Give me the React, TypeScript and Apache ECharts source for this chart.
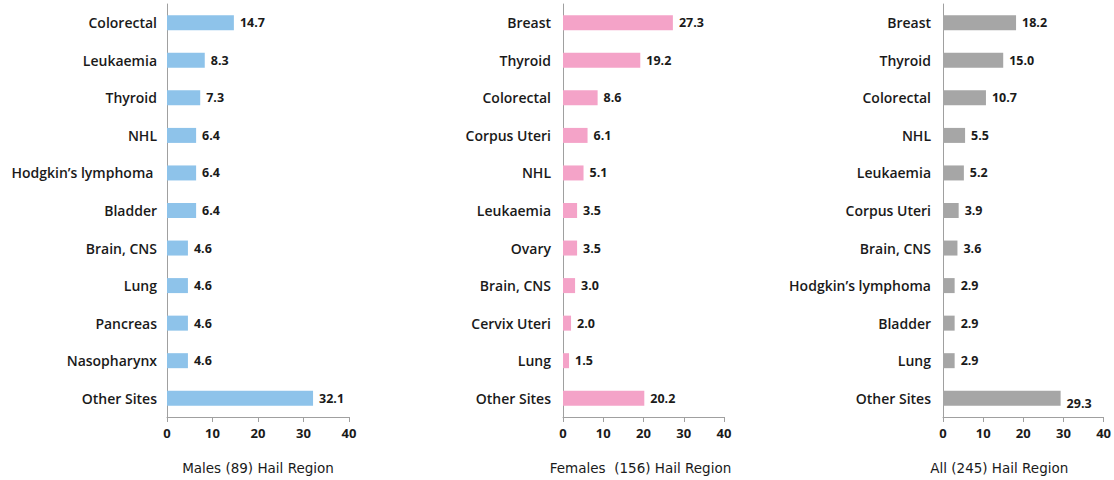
import React, { useEffect, useRef } from "react";
import * as echarts from "echarts";

const maleSites = ["Colorectal", "Leukaemia", "Thyroid", "NHL", "Hodgkin’s lymphoma ", "Bladder", "Brain, CNS", "Lung", "Pancreas", "Nasopharynx", "Other Sites"];
const maleValues = [14.7, 8.3, 7.3, 6.4, 6.4, 6.4, 4.6, 4.6, 4.6, 4.6, 32.1];

const femaleSites = ["Breast", "Thyroid", "Colorectal", "Corpus Uteri", "NHL", "Leukaemia", "Ovary", "Brain, CNS", "Cervix Uteri", "Lung", "Other Sites"];
const femaleValues = [27.3, 19.2, 8.6, 6.1, 5.1, 3.5, 3.5, 3.0, 2.0, 1.5, 20.2];

const allSites = ["Breast", "Thyroid", "Colorectal", "NHL", "Leukaemia", "Corpus Uteri", "Brain, CNS", "Hodgkin’s lymphoma", "Bladder", "Lung", "Other Sites"];
const allValues = [18.2, 15.0, 10.7, 5.5, 5.2, 3.9, 3.6, 2.9, 2.9, 2.9, 29.3];

const xTicks = [0, 10, 20, 30, 40];

const titles = ["Males (89) Hail Region", "Females  (156) Hail Region", "All (245) Hail Region"];

const FONT = "'Open Sans', 'Noto Sans', sans-serif";
const TITLE_FONT = "'DejaVu Sans', 'Open Sans', sans-serif";

export default function App() {
  const ref = useRef<HTMLDivElement>(null);
  useEffect(() => {
    document.body.style.margin = "0";
    const chart = echarts.init(ref.current!, null, { renderer: "svg" });
    const panels = [
      { sites: maleSites, values: maleValues, color: "#8ec3ea", left: 167, width: 182, labelMargin: 10, namePad: [0, 0, 0, 0] },
      { sites: femaleSites, values: femaleValues, color: "#f4a3c8", left: 563, width: 161, labelMargin: 12, namePad: [0, 6, 0, 0] },
      { sites: allSites, values: allValues, color: "#a6a6a6", left: 943, width: 162, labelMargin: 12, namePad: [0, 48, 0, 0] },
    ];
    const axisLine = { show: true, lineStyle: { color: "#a0a0a0", width: 1 } };
    chart.setOption({
      animation: false,
      grid: panels.map((p) => ({ left: p.left, width: p.width, top: 4, bottom: 63 })),
      xAxis: panels.map((p, i) => ({
        type: "value",
        gridIndex: i,
        min: xTicks[0],
        max: xTicks[xTicks.length - 1],
        interval: 10,
        splitLine: { show: false },
        axisLine,
        axisTick: { show: true, length: 5, lineStyle: { color: "#a0a0a0" } },
        axisLabel: { fontFamily: FONT, fontWeight: "bold", fontSize: 13, color: "#1a1a1a", margin: 9 },
        name: titles[i],
        nameLocation: "middle",
        nameGap: 44,
        nameTextStyle: { fontFamily: TITLE_FONT, fontSize: 13.5, fontWeight: "normal", color: "#1a1a1a", padding: p.namePad },
      })),
      yAxis: panels.map((p, i) => ({
        type: "category",
        gridIndex: i,
        inverse: true,
        data: p.sites,
        axisLine,
        axisTick: { show: false },
        axisLabel: { fontFamily: FONT, fontWeight: 600, fontSize: 14, color: "#1a1a1a", margin: p.labelMargin },
      })),
      series: panels.map((p, i) => ({
        type: "bar",
        xAxisIndex: i,
        yAxisIndex: i,
        barWidth: 15,
        data: p.values.map((v, j) =>
          i === 2 && j === p.values.length - 1 ? { value: v, label: { offset: [0, 5] } } : v
        ),
        itemStyle: { color: p.color },
        label: {
          show: true,
          position: "right",
          distance: 6,
          fontFamily: FONT,
          fontWeight: "bold",
          fontSize: 12.5,
          color: "#1a1a1a",
          formatter: (d: any) => Number(d.value).toFixed(1),
        },
      })),
    });
    return () => chart.dispose();
  }, []);
  return <div ref={ref} style={{ width: 1114, height: 480 }} />;
}
